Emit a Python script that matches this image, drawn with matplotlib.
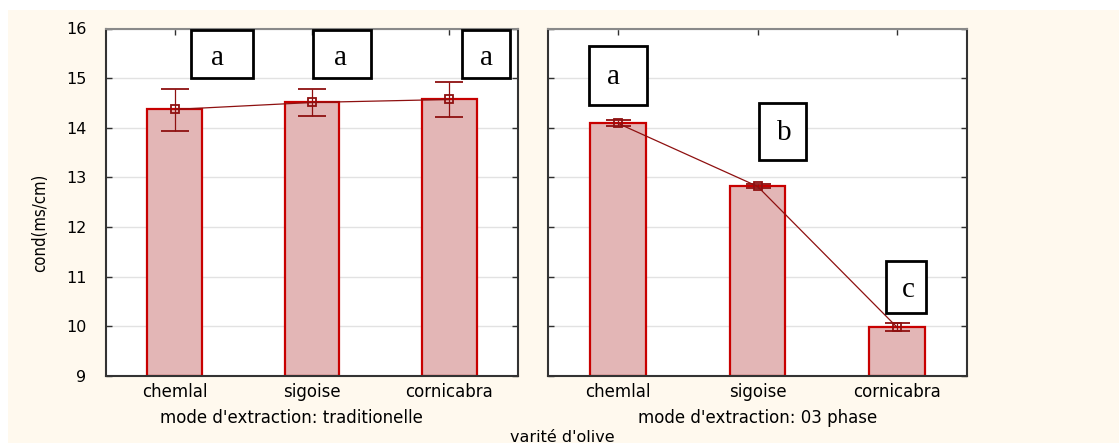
import matplotlib
matplotlib.use("Agg")
import matplotlib.pyplot as plt
from matplotlib.patches import Rectangle

# data
varieties = ['chemlal', 'sigoise', 'cornicabra']
modes = ["mode d'extraction: traditionelle", "mode d'extraction: 03 phase"]
means = [[14.37, 14.51, 14.57],
         [14.09, 12.82, 9.98]]
err_low = [[0.44, 0.28, 0.36],
           [0.06, 0.04, 0.08]]
err_high = [[0.42, 0.28, 0.36],
            [0.06, 0.04, 0.08]]
letters = [['a', 'a', 'a'],
           ['a', 'b', 'c']]
# letter boxes: (x0, x1, y0, y1) in data units, and letter centre
boxes = [[(0.116, 0.57, 15.01, 15.97), (1.01, 1.43, 15.01, 15.97), (2.09, 2.44, 15.01, 15.97)],
         [(-0.21, 0.21, 14.46, 15.64), (1.01, 1.35, 13.35, 14.5), (1.92, 2.21, 10.27, 11.32)]]
letter_pos = [[(0.31, 15.4), (1.21, 15.4), (2.27, 15.4)],
              [(-0.03, 15.02), (1.19, 13.9), (2.08, 10.74)]]

BG = '#fff9ee'
BAR_FACE = '#e3b6b6'
BAR_EDGE = '#c80000'
DARK = '#8e1010'

fig = plt.figure(figsize=(11.19, 4.43), dpi=100, facecolor='white')
fig.patches.append(Rectangle((8 / 1119, 0), 1, 1 - 10 / 443, transform=fig.transFigure,
                             facecolor=BG, edgecolor='none', zorder=-10))

axes_rects = [[106 / 1119, 67 / 443, 412 / 1119, 347.5 / 443],
              [548 / 1119, 67 / 443, 419 / 1119, 347.5 / 443]]
xs = range(len(varieties))

for i, rect in enumerate(axes_rects):
    ax = fig.add_axes(rect)
    ax.set_facecolor('white')
    ax.set_xlim(-0.5, 2.5)
    ax.set_ylim(9, 16)
    ax.set_yticks(range(9, 17))
    ax.yaxis.grid(True, color='#e2e2e2', linewidth=1)
    ax.set_axisbelow(True)

    ax.bar(xs, [m - 9 for m in means[i]], bottom=9, width=0.4,
           color=BAR_FACE, edgecolor=BAR_EDGE, linewidth=1.6, zorder=2)
    ax.errorbar(xs, means[i], yerr=[err_low[i], err_high[i]], color=DARK,
                linewidth=0.9, capsize=10 if i == 0 else 9, capthick=1.2,
                marker='s', markersize=6,
                markerfacecolor='none', markeredgecolor=DARK, markeredgewidth=1.3,
                zorder=3)

    for (x0, x1, y0, y1), (lx, ly), lt in zip(boxes[i], letter_pos[i], letters[i]):
        ax.add_patch(Rectangle((x0, y0), x1 - x0, y1 - y0, facecolor='white',
                               edgecolor='black', linewidth=2, zorder=4))
        ax.text(lx, ly, lt, fontsize=21, family='Liberation Serif',
                ha='center', va='center', zorder=5)

    ax.set_xticks(list(xs))
    ax.set_xticklabels(varieties, fontsize=12, family='DejaVu Sans')
    ax.tick_params(direction='in', length=4, width=1, color='#303030',
                   top=True, right=True, left=True, bottom=True, pad=5)
    ax.tick_params(axis='y', labelsize=11.5)
    if i == 1:
        ax.tick_params(axis='y', labelleft=False)
    else:
        ax.yaxis.set_tick_params(pad=14)
    for side in ['left', 'right', 'bottom']:
        ax.spines[side].set_color('#333333')
        ax.spines[side].set_linewidth(1.5)
    ax.spines['top'].set_color('#8a8a8a')
    ax.spines['top'].set_linewidth(1.5)

    cx = (rect[0] + rect[2] / 2) * 1119
    if i == 0:
        cx = 291
    fig.text(cx / 1119, 1 - 418 / 443, modes[i], ha='center', va='center',
             fontsize=12, family='DejaVu Sans')

fig.text(40 / 1119, 1 - 223 / 443, 'cond(ms/cm)', rotation=90, ha='center', va='center',
         fontsize=12, family=['Liberation Sans Narrow', 'DejaVu Sans Condensed', 'DejaVu Sans'],
         stretch='condensed')
fig.text(562 / 1119, 1 - 437 / 443, "varité d'olive", ha='center', va='center',
         fontsize=11.5, family='DejaVu Sans')

fig.savefig('out.png', dpi=100, facecolor=fig.get_facecolor())
